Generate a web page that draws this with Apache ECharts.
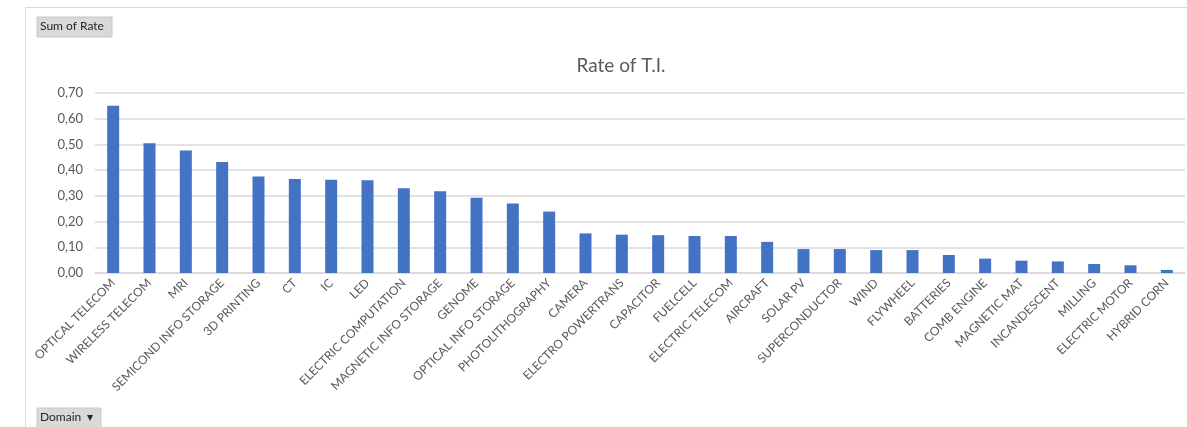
<!DOCTYPE html>
<html>
<head>
<meta charset="utf-8">
<script src="https://cdn.jsdelivr.net/npm/echarts@6/dist/echarts.min.js"></script>
<style>
  html, body { margin: 0; padding: 0; background: #fff; }
  #mChart { width: 1187px; height: 427px; }
</style>
</head>
<body>
<div id="mChart"></div>
<script>
// domains (x axis)
var domains = ['OPTICAL TELECOM', 'WIRELESS TELECOM', 'MRI', 'SEMICOND INFO STORAGE', '3D PRINTING',
  'CT', 'IC', 'LED', 'ELECTRIC COMPUTATION', 'MAGNETIC INFO STORAGE', 'GENOME', 'OPTICAL INFO STORAGE',
  'PHOTOLITHOGRAPHY', 'CAMERA', 'ELECTRO POWERTRANS', 'CAPACITOR', 'FUELCELL', 'ELECTRIC TELECOM',
  'AIRCRAFT', 'SOLAR PV', 'SUPERCONDUCTOR', 'WIND', 'FLYWHEEL', 'BATTERIES', 'COMB ENGINE',
  'MAGNETIC MAT', 'INCANDESCENT', 'MILLING', 'ELECTRIC MOTOR', 'HYBRID CORN'];
// sum of rate
var rates = [0.650, 0.505, 0.476, 0.432, 0.375, 0.366, 0.363, 0.361, 0.330, 0.318, 0.293, 0.270,
  0.239, 0.154, 0.149, 0.147, 0.144, 0.144, 0.121, 0.093, 0.093, 0.089, 0.089, 0.070, 0.056,
  0.048, 0.045, 0.035, 0.030, 0.012];
// y ticks
var yMin = 0, yMax = 0.7, yStep = 0.1;

var myChart = echarts.init(document.getElementById('mChart'));
var font = 'Lato, "Liberation Sans", sans-serif';

myChart.setOption({
  animation: false,
  title: {
    text: 'Rate of T.I.',
    left: 616,
    top: 51,
    textAlign: 'center',
    textStyle: { fontFamily: font, fontSize: 19, fontWeight: 'normal', color: '#595959' }
  },
  grid: { left: 95, right: 2, top: 93, bottom: 154, containLabel: false },
  xAxis: {
    type: 'category',
    data: domains,
    axisLine: { lineStyle: { color: '#d9d9d9', width: 1.5 } },
    axisTick: { show: false },
    axisLabel: {
      interval: 0,
      rotate: 45,
      margin: 8,
      fontFamily: font,
      fontSize: 12,
      color: '#595959'
    }
  },
  yAxis: {
    type: 'value',
    min: yMin,
    max: yMax,
    interval: yStep,
    axisLine: { show: false },
    axisTick: { show: false },
    splitLine: { lineStyle: { color: '#d9d9d9', width: 1.5 } },
    axisLabel: {
      margin: 12,
      fontFamily: font,
      fontSize: 13,
      color: '#595959',
      formatter: function (v) { return v.toFixed(2).replace('.', ','); }
    }
  },
  series: [{
    name: 'Sum of Rate',
    type: 'bar',
    data: rates,
    barWidth: 12,
    itemStyle: { color: '#4472c4' }
  }],
  graphic: [
    // chart frame
    { type: 'line', shape: { x1: 25.5, y1: 7.5, x2: 1187, y2: 7.5 }, style: { stroke: '#d9d9d9', lineWidth: 1 } },
    { type: 'line', shape: { x1: 25.5, y1: 7.5, x2: 25.5, y2: 427 }, style: { stroke: '#d9d9d9', lineWidth: 1 } },
    // field buttons
    { type: 'rect', shape: { x: 37, y: 17, width: 75, height: 20 }, style: { fill: '#d9d9d9', stroke: '#c8c8c8' } },
    { type: 'text', left: 40, top: 20, style: { text: 'Sum of Rate', font: '12px ' + font, fill: '#262626' } },
    { type: 'rect', shape: { x: 37, y: 408, width: 64, height: 20 }, style: { fill: '#d9d9d9', stroke: '#c8c8c8' } },
    { type: 'text', left: 40, top: 411, style: { text: 'Domain  ▾', font: '12px ' + font, fill: '#262626' } }
  ]
});
</script>
</body>
</html>
